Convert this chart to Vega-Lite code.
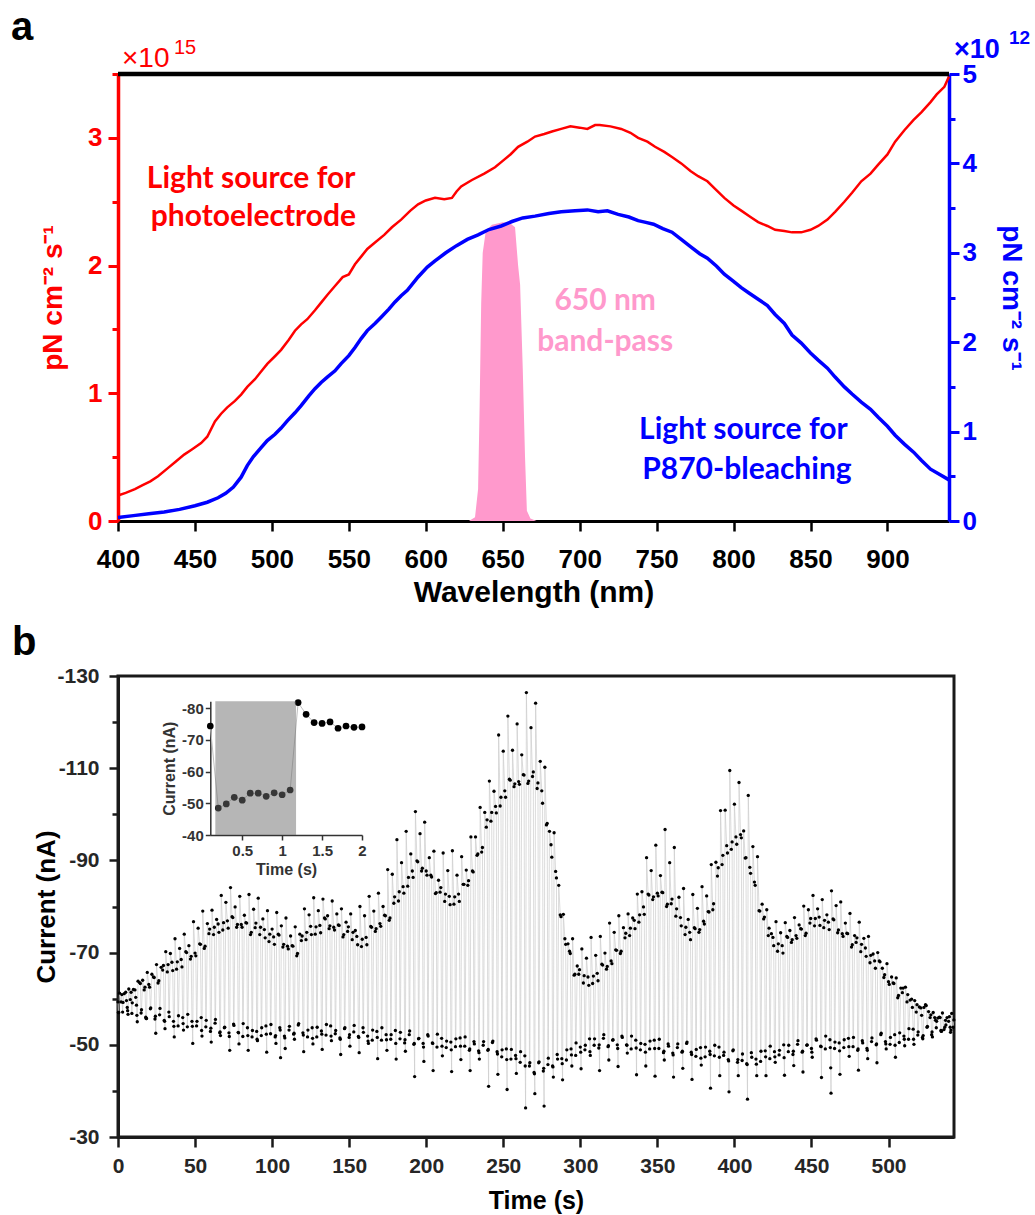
{
"$schema": "https://vega.github.io/schema/vega-lite/v6.json",
"background": "white",
"padding": {"left": 10, "top": 8, "right": 3, "bottom": 3},
"config": {"view": {"stroke": null}, "axis": {"grid": false}, "font": "Liberation Sans"},
"datasets": {
"red": [{"nm":400,"v":0.20},{"nm":405,"v":0.22},{"nm":411,"v":0.25},{"nm":416,"v":0.28},{"nm":421,"v":0.31},{"nm":426,"v":0.35},{"nm":432,"v":0.41},{"nm":437,"v":0.46},{"nm":443,"v":0.52},{"nm":448,"v":0.56},{"nm":454,"v":0.61},{"nm":458,"v":0.66},{"nm":463,"v":0.78},{"nm":467,"v":0.84},{"nm":471,"v":0.89},{"nm":476,"v":0.94},{"nm":480,"v":0.99},{"nm":484,"v":1.05},{"nm":489,"v":1.11},{"nm":493,"v":1.17},{"nm":497,"v":1.23},{"nm":502,"v":1.29},{"nm":506,"v":1.34},{"nm":511,"v":1.42},{"nm":515,"v":1.49},{"nm":519,"v":1.54},{"nm":523,"v":1.58},{"nm":528,"v":1.65},{"nm":532,"v":1.71},{"nm":536,"v":1.77},{"nm":541,"v":1.84},{"nm":546,"v":1.91},{"nm":550,"v":1.93},{"nm":554,"v":2.01},{"nm":558,"v":2.07},{"nm":562,"v":2.13},{"nm":567,"v":2.18},{"nm":573,"v":2.24},{"nm":578,"v":2.30},{"nm":584,"v":2.36},{"nm":590,"v":2.43},{"nm":595,"v":2.48},{"nm":600,"v":2.51},{"nm":606,"v":2.53},{"nm":612,"v":2.52},{"nm":617,"v":2.53},{"nm":620,"v":2.58},{"nm":623,"v":2.62},{"nm":630,"v":2.67},{"nm":638,"v":2.72},{"nm":645,"v":2.77},{"nm":650,"v":2.82},{"nm":655,"v":2.87},{"nm":660,"v":2.93},{"nm":666,"v":2.97},{"nm":671,"v":3.01},{"nm":677,"v":3.03},{"nm":682,"v":3.05},{"nm":688,"v":3.07},{"nm":694,"v":3.09},{"nm":700,"v":3.08},{"nm":705,"v":3.07},{"nm":710,"v":3.10},{"nm":713,"v":3.10},{"nm":720,"v":3.09},{"nm":727,"v":3.07},{"nm":733,"v":3.04},{"nm":738,"v":3.00},{"nm":744,"v":2.97},{"nm":749,"v":2.93},{"nm":755,"v":2.89},{"nm":760,"v":2.85},{"nm":766,"v":2.80},{"nm":772,"v":2.74},{"nm":777,"v":2.70},{"nm":783,"v":2.66},{"nm":788,"v":2.60},{"nm":794,"v":2.53},{"nm":800,"v":2.47},{"nm":805,"v":2.43},{"nm":811,"v":2.38},{"nm":816,"v":2.34},{"nm":822,"v":2.31},{"nm":827,"v":2.28},{"nm":833,"v":2.27},{"nm":838,"v":2.26},{"nm":844,"v":2.26},{"nm":850,"v":2.28},{"nm":855,"v":2.31},{"nm":861,"v":2.36},{"nm":866,"v":2.42},{"nm":872,"v":2.50},{"nm":877,"v":2.57},{"nm":883,"v":2.66},{"nm":889,"v":2.72},{"nm":894,"v":2.79},{"nm":900,"v":2.87},{"nm":905,"v":2.97},{"nm":911,"v":3.06},{"nm":917,"v":3.14},{"nm":922,"v":3.20},{"nm":928,"v":3.28},{"nm":932,"v":3.34},{"nm":937,"v":3.40},{"nm":940,"v":3.48}],
"blue": [{"nm":400,"v":0.04},{"nm":410,"v":0.06},{"nm":420,"v":0.08},{"nm":430,"v":0.10},{"nm":440,"v":0.13},{"nm":450,"v":0.17},{"nm":458,"v":0.21},{"nm":465,"v":0.26},{"nm":470,"v":0.31},{"nm":475,"v":0.38},{"nm":480,"v":0.49},{"nm":484,"v":0.62},{"nm":488,"v":0.72},{"nm":493,"v":0.82},{"nm":497,"v":0.90},{"nm":502,"v":0.97},{"nm":506,"v":1.04},{"nm":510,"v":1.12},{"nm":515,"v":1.21},{"nm":519,"v":1.29},{"nm":524,"v":1.40},{"nm":528,"v":1.48},{"nm":532,"v":1.55},{"nm":536,"v":1.61},{"nm":541,"v":1.68},{"nm":545,"v":1.76},{"nm":550,"v":1.85},{"nm":554,"v":1.94},{"nm":558,"v":2.04},{"nm":562,"v":2.13},{"nm":567,"v":2.21},{"nm":571,"v":2.28},{"nm":576,"v":2.37},{"nm":580,"v":2.45},{"nm":584,"v":2.52},{"nm":588,"v":2.58},{"nm":595,"v":2.73},{"nm":601,"v":2.84},{"nm":606,"v":2.91},{"nm":613,"v":3.00},{"nm":620,"v":3.08},{"nm":627,"v":3.15},{"nm":634,"v":3.20},{"nm":641,"v":3.26},{"nm":649,"v":3.30},{"nm":656,"v":3.35},{"nm":663,"v":3.39},{"nm":671,"v":3.41},{"nm":680,"v":3.44},{"nm":688,"v":3.46},{"nm":697,"v":3.47},{"nm":705,"v":3.48},{"nm":712,"v":3.46},{"nm":718,"v":3.47},{"nm":725,"v":3.43},{"nm":732,"v":3.40},{"nm":738,"v":3.36},{"nm":743,"v":3.34},{"nm":748,"v":3.32},{"nm":754,"v":3.27},{"nm":760,"v":3.23},{"nm":766,"v":3.15},{"nm":772,"v":3.07},{"nm":778,"v":2.99},{"nm":783,"v":2.94},{"nm":789,"v":2.85},{"nm":794,"v":2.76},{"nm":800,"v":2.68},{"nm":805,"v":2.61},{"nm":810,"v":2.55},{"nm":816,"v":2.48},{"nm":822,"v":2.41},{"nm":827,"v":2.31},{"nm":833,"v":2.21},{"nm":838,"v":2.08},{"nm":844,"v":1.99},{"nm":850,"v":1.88},{"nm":855,"v":1.80},{"nm":861,"v":1.71},{"nm":866,"v":1.61},{"nm":872,"v":1.50},{"nm":877,"v":1.42},{"nm":883,"v":1.33},{"nm":889,"v":1.25},{"nm":894,"v":1.16},{"nm":900,"v":1.06},{"nm":905,"v":0.96},{"nm":911,"v":0.86},{"nm":917,"v":0.77},{"nm":922,"v":0.68},{"nm":928,"v":0.58},{"nm":934,"v":0.52},{"nm":940,"v":0.46}],
"pink": [{"nm":628,"v":0},{"nm":632,"v":0.03},{"nm":634,"v":0.25},{"nm":635,"v":0.9},{"nm":636,"v":1.7},{"nm":637,"v":2.1},{"nm":639,"v":2.27},{"nm":643,"v":2.32},{"nm":650,"v":2.34},{"nm":655,"v":2.33},{"nm":658,"v":2.3},{"nm":660,"v":2.0},{"nm":661.3,"v":1.85},{"nm":663,"v":1.2},{"nm":664.5,"v":0.5},{"nm":665.7,"v":0.08},{"nm":668,"v":0.02},{"nm":672,"v":0}],
"cur": [
{"t":0,"c":-59.3},{"t":0.25,"c":-57.0},{"t":0.5,"c":-57.0},{"t":1,"c":-61.2},{"t":2,"c":-59.3},{"t":2.5,"c":-60.9},
{"t":3,"c":-57.1},{"t":3.25,"c":-59.2},{"t":4,"c":-61.1},{"t":5,"c":-61.4},{"t":5.5,"c":-59.6},
{"t":6,"c":-58.1},{"t":6.25,"c":-57.4},{"t":6.5,"c":-56.6},{"t":7,"c":-62.1},{"t":8,"c":-59.8},{"t":8.5,"c":-61.4},
{"t":9,"c":-56.8},{"t":9.25,"c":-59.1},{"t":10,"c":-62.0},{"t":11,"c":-61.9},{"t":11.5,"c":-60.3},
{"t":12,"c":-58.6},{"t":12.25,"c":-56.4},{"t":12.5,"c":-55.0},{"t":13,"c":-63.8},{"t":14,"c":-63.5},{"t":14.5,"c":-63.3},
{"t":15,"c":-56.9},{"t":15.25,"c":-57.6},{"t":16,"c":-64.0},{"t":17,"c":-61.9},{"t":17.5,"c":-62.5},
{"t":18,"c":-56.0},{"t":18.25,"c":-55.7},{"t":18.5,"c":-55.7},{"t":19,"c":-65.7},{"t":20,"c":-63.1},{"t":20.5,"c":-62.5},
{"t":21,"c":-57.8},{"t":21.25,"c":-58.0},{"t":22,"c":-65.3},{"t":23,"c":-64.7},{"t":23.5,"c":-64.6},
{"t":24,"c":-55.6},{"t":24.25,"c":-56.2},{"t":24.5,"c":-52.5},{"t":25,"c":-67.4},{"t":26,"c":-63.4},{"t":26.5,"c":-63.9},
{"t":27,"c":-56.5},{"t":27.25,"c":-57.9},{"t":28,"c":-66.8},{"t":29,"c":-66.2},{"t":29.5,"c":-67.2},
{"t":30,"c":-55.3},{"t":30.25,"c":-55.1},{"t":30.5,"c":-53.5},{"t":31,"c":-70.2},{"t":32,"c":-65.8},{"t":32.5,"c":-67.4},
{"t":33,"c":-57.1},{"t":33.25,"c":-56.1},{"t":34,"c":-69.8},{"t":35,"c":-67.9},{"t":35.5,"c":-66.1},
{"t":36,"c":-55.1},{"t":36.25,"c":-54.0},{"t":36.5,"c":-51.7},{"t":37,"c":-73.0},{"t":38,"c":-66.4},{"t":38.5,"c":-68.0},
{"t":39,"c":-54.1},{"t":39.25,"c":-56.3},{"t":40,"c":-70.9},{"t":41,"c":-68.5},{"t":41.5,"c":-66.9},
{"t":42,"c":-55.9},{"t":42.25,"c":-54.6},{"t":42.5,"c":-53.2},{"t":43,"c":-74.0},{"t":44,"c":-70.2},{"t":44.5,"c":-70.0},
{"t":45,"c":-53.9},{"t":45.25,"c":-56.6},{"t":46,"c":-71.5},{"t":47,"c":-68.6},{"t":47.5,"c":-69.2},
{"t":48,"c":-55.1},{"t":48.25,"c":-54.0},{"t":48.5,"c":-50.3},{"t":49,"c":-76.7},{"t":50,"c":-69.9},{"t":50.5,"c":-69.3},
{"t":51,"c":-54.1},{"t":51.25,"c":-55.1},{"t":52,"c":-75.3},{"t":53,"c":-71.9},{"t":53.5,"c":-71.8},
{"t":54,"c":-55.9},{"t":54.25,"c":-53.1},{"t":54.5,"c":-51.9},{"t":55,"c":-79.0},{"t":56,"c":-70.9},{"t":56.5,"c":-71.4},
{"t":57,"c":-53.9},{"t":57.25,"c":-55.3},{"t":58,"c":-76.3},{"t":59,"c":-74.1},{"t":59.5,"c":-75.1},
{"t":60,"c":-52.9},{"t":60.25,"c":-53.6},{"t":60.5,"c":-50.6},{"t":61,"c":-79.2},{"t":62,"c":-73.9},{"t":62.5,"c":-75.5},
{"t":63,"c":-54.7},{"t":63.25,"c":-55.5},{"t":64,"c":-77.2},{"t":65,"c":-76.2},{"t":65.5,"c":-74.4},
{"t":66,"c":-52.6},{"t":66.25,"c":-52.8},{"t":66.5,"c":-52.0},{"t":67,"c":-82.4},{"t":68,"c":-74.9},{"t":68.5,"c":-76.5},
{"t":69,"c":-53.7},{"t":69.25,"c":-53.8},{"t":70,"c":-80.9},{"t":71,"c":-76.9},{"t":71.5,"c":-75.3},
{"t":72,"c":-52.6},{"t":72.25,"c":-51.8},{"t":72.5,"c":-48.8},{"t":73,"c":-84.1},{"t":74,"c":-77.8},{"t":74.5,"c":-77.6},
{"t":75,"c":-54.5},{"t":75.25,"c":-54.2},{"t":76,"c":-79.9},{"t":77,"c":-75.5},{"t":77.5,"c":-76.1},
{"t":78,"c":-52.7},{"t":78.25,"c":-52.6},{"t":78.5,"c":-50.2},{"t":79,"c":-82.2},{"t":80,"c":-76.1},{"t":80.5,"c":-75.5},
{"t":81,"c":-51.8},{"t":81.25,"c":-54.6},{"t":82,"c":-78.1},{"t":83,"c":-76.5},{"t":83.5,"c":-76.4},
{"t":84,"c":-53.7},{"t":84.25,"c":-52.0},{"t":84.5,"c":-48.8},{"t":85,"c":-82.6},{"t":86,"c":-73.9},{"t":86.5,"c":-74.4},
{"t":87,"c":-51.7},{"t":87.25,"c":-53.1},{"t":88,"c":-79.4},{"t":89,"c":-75.4},{"t":89.5,"c":-76.4},
{"t":90,"c":-52.9},{"t":90.25,"c":-51.2},{"t":90.5,"c":-50.9},{"t":91,"c":-81.8},{"t":92,"c":-73.9},{"t":92.5,"c":-75.5},
{"t":93,"c":-52.0},{"t":93.25,"c":-53.7},{"t":94,"c":-77.3},{"t":95,"c":-75.0},{"t":95.5,"c":-73.2},
{"t":96,"c":-54.1},{"t":96.25,"c":-52.3},{"t":96.5,"c":-48.4},{"t":97,"c":-79.1},{"t":98,"c":-72.4},{"t":98.5,"c":-74.0},
{"t":99,"c":-52.4},{"t":99.25,"c":-54.4},{"t":100,"c":-75.1},{"t":101,"c":-73.4},{"t":101.5,"c":-71.8},
{"t":102,"c":-51.7},{"t":102.25,"c":-52.0},{"t":102.5,"c":-50.3},{"t":103,"c":-78.7},{"t":104,"c":-74.0},{"t":104.5,"c":-73.8},
{"t":105,"c":-53.7},{"t":105.25,"c":-53.2},{"t":105.5,"c":-47.2},{"t":106,"c":-75.8},{"t":107,"c":-71.2},{"t":107.5,"c":-71.8},
{"t":108,"c":-51.9},{"t":108.25,"c":-51.5},{"t":108.5,"c":-49.2},{"t":109,"c":-77.5},{"t":110,"c":-71.4},{"t":110.5,"c":-70.8},
{"t":111,"c":-53.2},{"t":111.25,"c":-54.0},{"t":112,"c":-73.6},{"t":113,"c":-71.5},{"t":113.5,"c":-71.4},
{"t":114,"c":-52.3},{"t":114.25,"c":-52.5},{"t":114.5,"c":-51.2},{"t":115,"c":-75.6},{"t":116,"c":-69.3},{"t":116.5,"c":-69.8},
{"t":117,"c":-54.3},{"t":117.25,"c":-54.6},{"t":118,"c":-74.0},{"t":119,"c":-72.6},{"t":119.5,"c":-73.6},
{"t":120,"c":-52.6},{"t":120.25,"c":-52.1},{"t":120.5,"c":-48.5},{"t":121,"c":-79.5},{"t":122,"c":-72.8},{"t":122.5,"c":-74.4},
{"t":123,"c":-51.7},{"t":123.25,"c":-53.2},{"t":124,"c":-78.2},{"t":125,"c":-75.7},{"t":125.5,"c":-73.9},
{"t":126,"c":-53.7},{"t":126.25,"c":-51.4},{"t":126.5,"c":-50.2},{"t":127,"c":-81.9},{"t":128,"c":-74.0},{"t":128.5,"c":-75.6},
{"t":129,"c":-51.7},{"t":129.25,"c":-53.8},{"t":130,"c":-79.1},{"t":131,"c":-75.9},{"t":131.5,"c":-74.3},
{"t":132,"c":-53.0},{"t":132.25,"c":-52.3},{"t":132.5,"c":-49.0},{"t":133,"c":-81.6},{"t":134,"c":-77.5},{"t":134.5,"c":-77.3},
{"t":135,"c":-52.1},{"t":135.25,"c":-54.4},{"t":136,"c":-78.0},{"t":137,"c":-75.2},{"t":137.5,"c":-75.8},
{"t":138,"c":-54.1},{"t":138.25,"c":-51.9},{"t":138.5,"c":-50.9},{"t":139,"c":-81.2},{"t":140,"c":-75.5},{"t":140.5,"c":-74.9},
{"t":141,"c":-52.4},{"t":141.25,"c":-53.1},{"t":142,"c":-78.4},{"t":143,"c":-76.0},{"t":143.5,"c":-75.9},
{"t":144,"c":-51.5},{"t":144.25,"c":-51.2},{"t":144.5,"c":-47.9},{"t":145,"c":-79.5},{"t":146,"c":-73.4},{"t":146.5,"c":-73.9},
{"t":147,"c":-53.5},{"t":147.25,"c":-53.7},{"t":148,"c":-76.6},{"t":149,"c":-74.6},{"t":149.5,"c":-75.6},
{"t":150,"c":-51.6},{"t":150.25,"c":-52.2},{"t":150.5,"c":-49.7},{"t":151,"c":-78.4},{"t":152,"c":-72.8},{"t":152.5,"c":-74.4},
{"t":153,"c":-52.8},{"t":153.25,"c":-54.2},{"t":154,"c":-74.8},{"t":155,"c":-73.5},{"t":155.5,"c":-71.7},
{"t":156,"c":-51.8},{"t":156.25,"c":-51.6},{"t":156.5,"c":-48.3},{"t":157,"c":-80.0},{"t":158,"c":-71.3},{"t":158.5,"c":-72.9},
{"t":159,"c":-53.7},{"t":159.25,"c":-52.7},{"t":160,"c":-78.0},{"t":161,"c":-73.3},{"t":161.5,"c":-71.7},
{"t":162,"c":-51.9},{"t":162.25,"c":-50.8},{"t":162.5,"c":-50.3},{"t":163,"c":-82.2},{"t":164,"c":-75.7},{"t":164.5,"c":-75.5},
{"t":165,"c":-51.0},{"t":165.25,"c":-53.2},{"t":166,"c":-79.0},{"t":167,"c":-74.6},{"t":167.5,"c":-75.2},
{"t":168,"c":-52.9},{"t":168.25,"c":-51.6},{"t":168.5,"c":-47.0},{"t":169,"c":-82.9},{"t":170,"c":-76.3},{"t":170.5,"c":-75.7},
{"t":171,"c":-51.0},{"t":171.25,"c":-53.7},{"t":172,"c":-80.0},{"t":173,"c":-78.1},{"t":173.5,"c":-78.0},
{"t":174,"c":-52.2},{"t":174.25,"c":-51.1},{"t":174.5,"c":-48.8},{"t":175,"c":-88.0},{"t":176,"c":-77.0},{"t":176.5,"c":-77.5},
{"t":177,"c":-51.2},{"t":177.25,"c":-52.2},{"t":178,"c":-87.0},{"t":179,"c":-80.7},{"t":179.5,"c":-82.1},
{"t":180,"c":-53.1},{"t":180.25,"c":-50.3},{"t":180.5,"c":-46.9},{"t":181,"c":-94.5},{"t":182,"c":-81.2},{"t":182.5,"c":-83.2},
{"t":183,"c":-51.3},{"t":183.25,"c":-52.7},{"t":184,"c":-89.5},{"t":185,"c":-84.3},{"t":185.5,"c":-82.9},
{"t":186,"c":-50.4},{"t":186.25,"c":-51.1},{"t":186.5,"c":-48.6},{"t":187,"c":-96.3},{"t":188,"c":-84.4},{"t":188.5,"c":-86.3},
{"t":189,"c":-52.2},{"t":189.25,"c":-53.0},{"t":190,"c":-91.4},{"t":191,"c":-87.7},{"t":191.5,"c":-86.3},
{"t":192,"c":-50.1},{"t":192.25,"c":-50.3},{"t":192.5,"c":-43.1},{"t":193,"c":-100.6},{"t":194,"c":-89.9},{"t":194.5,"c":-89.7},
{"t":195,"c":-51.3},{"t":195.25,"c":-51.4},{"t":196,"c":-95.8},{"t":197,"c":-87.7},{"t":197.5,"c":-88.3},
{"t":198,"c":-50.3},{"t":198.25,"c":-49.5},{"t":198.5,"c":-46.4},{"t":199,"c":-98.3},{"t":200,"c":-87.7},{"t":200.5,"c":-86.8},
{"t":201,"c":-52.2},{"t":201.25,"c":-51.9},{"t":202,"c":-90.6},{"t":203,"c":-86.8},{"t":203.5,"c":-86.4},
{"t":204,"c":-50.4},{"t":204.25,"c":-50.3},{"t":204.5,"c":-44.4},{"t":205,"c":-92.0},{"t":206,"c":-82.8},{"t":206.5,"c":-83.0},
{"t":207,"c":-49.5},{"t":207.25,"c":-52.3},{"t":208,"c":-85.7},{"t":209,"c":-83.1},{"t":209.5,"c":-84.1},
{"t":210,"c":-51.4},{"t":210.25,"c":-49.7},{"t":210.5,"c":-47.6},{"t":211,"c":-91.6},{"t":212,"c":-81.1},{"t":212.5,"c":-82.7},
{"t":213,"c":-49.4},{"t":213.25,"c":-50.8},{"t":214,"c":-87.8},{"t":215,"c":-82.2},{"t":215.5,"c":-80.4},
{"t":216,"c":-50.6},{"t":216.25,"c":-48.9},{"t":216.5,"c":-44.2},{"t":217,"c":-92.1},{"t":218,"c":-80.5},{"t":218.5,"c":-82.1},
{"t":219,"c":-49.6},{"t":219.25,"c":-51.3},{"t":220,"c":-86.8},{"t":221,"c":-82.7},{"t":221.5,"c":-81.1},
{"t":222,"c":-51.5},{"t":222.25,"c":-49.7},{"t":222.5,"c":-46.8},{"t":223,"c":-90.8},{"t":224,"c":-84.8},{"t":224.5,"c":-84.8},
{"t":225,"c":-49.7},{"t":225.25,"c":-51.7},{"t":226,"c":-87.9},{"t":227,"c":-84.6},{"t":227.5,"c":-85.6},
{"t":228,"c":-48.8},{"t":228.25,"c":-49.1},{"t":228.5,"c":-44.4},{"t":229,"c":-95.1},{"t":230,"c":-87.7},{"t":230.5,"c":-87.5},
{"t":231,"c":-50.7},{"t":231.25,"c":-50.2},{"t":232,"c":-95.1},{"t":233,"c":-91.1},{"t":233.5,"c":-91.4},
{"t":234,"c":-48.7},{"t":234.25,"c":-48.3},{"t":234.5,"c":-46.9},{"t":235,"c":-101.5},{"t":236,"c":-91.8},{"t":236.5,"c":-92.8},
{"t":237,"c":-49.9},{"t":237.25,"c":-50.7},{"t":238,"c":-100.4},{"t":239,"c":-97.2},{"t":239.5,"c":-98.8},
{"t":240,"c":-48.8},{"t":240.25,"c":-49.0},{"t":240.5,"c":-41.0},{"t":241,"c":-107.2},{"t":242,"c":-98.5},{"t":242.5,"c":-100.4},
{"t":243,"c":-50.5},{"t":243.25,"c":-50.8},{"t":244,"c":-105.0},{"t":245,"c":-101.7},{"t":245.5,"c":-100.3},
{"t":246,"c":-48.5},{"t":246.25,"c":-48.0},{"t":246.5,"c":-43.6},{"t":247,"c":-117.2},{"t":248,"c":-101.8},{"t":248.5,"c":-103.7},
{"t":249,"c":-47.4},{"t":249.25,"c":-48.9},{"t":250,"c":-113.7},{"t":251,"c":-105.1},{"t":251.5,"c":-103.7},
{"t":252,"c":-49.1},{"t":252.25,"c":-46.8},{"t":252.5,"c":-40.3},{"t":253,"c":-121.3},{"t":254,"c":-107.6},{"t":254.5,"c":-107.4},
{"t":255,"c":-46.9},{"t":255.25,"c":-49.0},{"t":256,"c":-113.9},{"t":257,"c":-106.0},{"t":257.5,"c":-106.6},
{"t":258,"c":-47.7},{"t":258.25,"c":-47.0},{"t":258.5,"c":-43.8},{"t":259,"c":-119.6},{"t":260,"c":-107.1},{"t":260.5,"c":-106.5},
{"t":261,"c":-46.2},{"t":261.25,"c":-48.5},{"t":262,"c":-112.9},{"t":263,"c":-108.6},{"t":263.5,"c":-108.5},
{"t":264,"c":-47.6},{"t":264.25,"c":-45.4},{"t":264.5,"c":-36.3},{"t":265,"c":-126.4},{"t":266,"c":-106.7},{"t":266.5,"c":-107.2},
{"t":267,"c":-45.4},{"t":267.25,"c":-46.1},{"t":268,"c":-118.8},{"t":269,"c":-108.2},{"t":269.5,"c":-109.2},
{"t":270,"c":-44.0},{"t":270.25,"c":-43.7},{"t":270.5,"c":-39.4},{"t":271,"c":-124.1},{"t":272,"c":-105.6},{"t":272.5,"c":-106.8},
{"t":273,"c":-46.1},{"t":273.25,"c":-46.3},{"t":274,"c":-111.5},{"t":275,"c":-105.1},{"t":275.5,"c":-102.4},
{"t":276,"c":-44.3},{"t":276.25,"c":-44.9},{"t":276.5,"c":-36.7},{"t":277,"c":-110.2},{"t":278,"c":-97.7},{"t":278.5,"c":-98.0},
{"t":279,"c":-45.7},{"t":279.25,"c":-47.1},{"t":280,"c":-96.3},{"t":281,"c":-93.4},{"t":281.5,"c":-90.7},
{"t":282,"c":-45.4},{"t":282.25,"c":-45.2},{"t":282.5,"c":-43.0},{"t":283,"c":-96.0},{"t":284,"c":-87.6},{"t":284.5,"c":-86.2},
{"t":285,"c":-47.9},{"t":285.25,"c":-46.9},{"t":286,"c":-84.6},{"t":287,"c":-78.2},{"t":287.5,"c":-77.8},
{"t":288,"c":-47.0},{"t":288.25,"c":-45.9},{"t":288.5,"c":-42.4},{"t":289,"c":-78.3},{"t":290,"c":-73.0},{"t":290.5,"c":-71.8},
{"t":291,"c":-46.7},{"t":291.25,"c":-48.9},{"t":292,"c":-71.9},{"t":293,"c":-70.3},{"t":293.5,"c":-69.8},
{"t":294,"c":-49.1},{"t":294.25,"c":-47.8},{"t":294.5,"c":-45.4},{"t":295,"c":-73.0},{"t":296,"c":-65.1},{"t":296.5,"c":-65.3},
{"t":297,"c":-47.7},{"t":297.25,"c":-50.4},{"t":298,"c":-67.1},{"t":299,"c":-65.3},{"t":299.5,"c":-66.3},
{"t":300,"c":-49.5},{"t":300.25,"c":-48.4},{"t":300.5,"c":-44.8},{"t":301,"c":-70.8},{"t":302,"c":-63.4},{"t":302.5,"c":-65.0},
{"t":303,"c":-48.9},{"t":303.25,"c":-49.9},{"t":304,"c":-68.8},{"t":305,"c":-64.7},{"t":305.5,"c":-62.9},
{"t":306,"c":-51.3},{"t":306.25,"c":-48.5},{"t":306.5,"c":-47.7},{"t":307,"c":-73.3},{"t":308,"c":-63.3},{"t":308.5,"c":-64.9},
{"t":309,"c":-49.9},{"t":309.25,"c":-51.3},{"t":310,"c":-69.4},{"t":311,"c":-65.5},{"t":311.5,"c":-63.9},
{"t":312,"c":-49.3},{"t":312.25,"c":-50.0},{"t":312.5,"c":-44.4},{"t":313,"c":-73.5},{"t":314,"c":-67.5},{"t":314.5,"c":-67.3},
{"t":315,"c":-51.4},{"t":315.25,"c":-52.2},{"t":316,"c":-69.9},{"t":317,"c":-66.4},{"t":317.5,"c":-67.0},
{"t":318,"c":-49.6},{"t":318.25,"c":-49.8},{"t":318.5,"c":-46.7},{"t":319,"c":-76.4},{"t":320,"c":-68.2},{"t":320.5,"c":-67.6},
{"t":321,"c":-51.0},{"t":321.25,"c":-51.1},{"t":322,"c":-74.4},{"t":323,"c":-70.6},{"t":323.5,"c":-70.5},
{"t":324,"c":-50.0},{"t":324.25,"c":-49.2},{"t":324.5,"c":-45.3},{"t":325,"c":-78.0},{"t":326,"c":-69.8},{"t":326.5,"c":-70.3},
{"t":327,"c":-51.9},{"t":327.25,"c":-51.6},{"t":328,"c":-75.4},{"t":329,"c":-73.2},{"t":329.5,"c":-74.2},
{"t":330,"c":-50.0},{"t":330.25,"c":-49.9},{"t":330.5,"c":-48.2},{"t":331,"c":-78.4},{"t":332,"c":-73.7},{"t":332.5,"c":-75.3},
{"t":333,"c":-49.1},{"t":333.25,"c":-51.9},{"t":334,"c":-77.5},{"t":335,"c":-77.0},{"t":335.5,"c":-75.2},
{"t":336,"c":-51.0},{"t":336.25,"c":-49.3},{"t":336.5,"c":-43.5},{"t":337,"c":-82.7},{"t":338,"c":-76.6},{"t":338.5,"c":-78.2},
{"t":339,"c":-48.9},{"t":339.25,"c":-50.3},{"t":340,"c":-83.2},{"t":341,"c":-79.9},{"t":341.5,"c":-78.3},
{"t":342,"c":-50.1},{"t":342.25,"c":-48.4},{"t":342.5,"c":-45.4},{"t":343,"c":-90.6},{"t":344,"c":-82.7},{"t":344.5,"c":-82.5},
{"t":345,"c":-49.1},{"t":345.25,"c":-50.8},{"t":346,"c":-87.8},{"t":347,"c":-81.5},{"t":347.5,"c":-82.1},
{"t":348,"c":-51.0},{"t":348.25,"c":-49.2},{"t":348.5,"c":-43.2},{"t":349,"c":-93.3},{"t":350,"c":-82.9},{"t":350.5,"c":-82.3},
{"t":351,"c":-49.2},{"t":351.25,"c":-51.2},{"t":352,"c":-86.7},{"t":353,"c":-83.1},{"t":353.5,"c":-83.0},
{"t":354,"c":-48.3},{"t":354.25,"c":-48.6},{"t":354.5,"c":-46.7},{"t":355,"c":-96.7},{"t":356,"c":-80.0},{"t":356.5,"c":-80.5},
{"t":357,"c":-50.2},{"t":357.25,"c":-49.7},{"t":358,"c":-89.5},{"t":359,"c":-80.6},{"t":359.5,"c":-81.6},
{"t":360,"c":-48.2},{"t":360.25,"c":-47.8},{"t":360.5,"c":-43.0},{"t":361,"c":-92.8},{"t":362,"c":-77.9},{"t":362.5,"c":-79.5},
{"t":363,"c":-49.4},{"t":363.25,"c":-50.2},{"t":364,"c":-82.0},{"t":365,"c":-77.6},{"t":365.5,"c":-75.8},
{"t":366,"c":-48.4},{"t":366.25,"c":-48.6},{"t":366.5,"c":-44.9},{"t":367,"c":-83.9},{"t":368,"c":-73.9},{"t":368.5,"c":-75.5},
{"t":369,"c":-50.3},{"t":369.25,"c":-50.6},{"t":370,"c":-77.2},{"t":371,"c":-74.4},{"t":371.5,"c":-72.8},
{"t":372,"c":-48.4},{"t":372.25,"c":-47.9},{"t":372.5,"c":-42.5},{"t":373,"c":-82.6},{"t":374,"c":-75.4},{"t":374.5,"c":-75.2},
{"t":375,"c":-47.5},{"t":375.25,"c":-49.0},{"t":376,"c":-79.6},{"t":377,"c":-74.4},{"t":377.5,"c":-75.0},
{"t":378,"c":-49.4},{"t":378.25,"c":-47.1},{"t":378.5,"c":-45.6},{"t":379,"c":-84.3},{"t":380,"c":-76.8},{"t":380.5,"c":-76.2},
{"t":381,"c":-47.4},{"t":381.25,"c":-49.5},{"t":382,"c":-82.3},{"t":383,"c":-78.9},{"t":383.5,"c":-78.8},
{"t":384,"c":-48.6},{"t":384.25,"c":-47.9},{"t":384.5,"c":-40.6},{"t":385,"c":-89.1},{"t":386,"c":-79.3},{"t":386.5,"c":-80.6},
{"t":387,"c":-47.6},{"t":387.25,"c":-49.9},{"t":388,"c":-89.6},{"t":389,"c":-86.6},{"t":389.5,"c":-88.4},
{"t":390,"c":-49.5},{"t":390.25,"c":-47.3},{"t":390.5,"c":-43.3},{"t":391,"c":-100.8},{"t":392,"c":-89.1},{"t":392.5,"c":-91.1},
{"t":393,"c":-47.7},{"t":393.25,"c":-48.4},{"t":394,"c":-100.9},{"t":395,"c":-93.2},{"t":395.5,"c":-91.6},
{"t":396,"c":-46.8},{"t":396.25,"c":-46.5},{"t":396.5,"c":-39.8},{"t":397,"c":-109.5},{"t":398,"c":-92.4},{"t":398.5,"c":-94.0},
{"t":399,"c":-48.7},{"t":399.25,"c":-48.9},{"t":400,"c":-102.2},{"t":401,"c":-95.1},{"t":401.5,"c":-93.5},
{"t":402,"c":-46.2},{"t":402.25,"c":-46.8},{"t":402.5,"c":-43.3},{"t":403,"c":-106.9},{"t":404,"c":-95.6},{"t":404.5,"c":-94.9},
{"t":405,"c":-46.6},{"t":405.25,"c":-48.0},{"t":406,"c":-96.4},{"t":407,"c":-90.5},{"t":407.5,"c":-90.6},
{"t":408,"c":-45.9},{"t":408.25,"c":-45.7},{"t":408.5,"c":-38.2},{"t":409,"c":-104.1},{"t":410,"c":-88.5},{"t":410.5,"c":-87.2},
{"t":411,"c":-48.3},{"t":411.25,"c":-47.3},{"t":412,"c":-93.0},{"t":413,"c":-85.3},{"t":413.5,"c":-84.6},
{"t":414,"c":-46.9},{"t":414.25,"c":-45.8},{"t":414.5,"c":-43.3},{"t":415,"c":-90.8},{"t":416,"c":-79.1},{"t":416.5,"c":-79.0},
{"t":417,"c":-46.4},{"t":417.25,"c":-48.6},{"t":418,"c":-80.5},{"t":419,"c":-77.3},{"t":419.5,"c":-77.7},
{"t":420,"c":-48.7},{"t":420.25,"c":-47.4},{"t":420.5,"c":-43.3},{"t":421,"c":-79.3},{"t":422,"c":-73.7},{"t":422.5,"c":-75.3},
{"t":423,"c":-47.0},{"t":423.25,"c":-49.7},{"t":424,"c":-74.1},{"t":425,"c":-73.3},{"t":425.5,"c":-71.5},
{"t":426,"c":-48.5},{"t":426.25,"c":-47.4},{"t":426.5,"c":-46.2},{"t":427,"c":-76.7},{"t":428,"c":-70.3},{"t":428.5,"c":-71.9},
{"t":429,"c":-47.8},{"t":429.25,"c":-48.8},{"t":430,"c":-74.3},{"t":431,"c":-71.5},{"t":431.5,"c":-69.9},
{"t":432,"c":-50.0},{"t":432.25,"c":-47.2},{"t":432.5,"c":-43.4},{"t":433,"c":-76.5},{"t":434,"c":-73.5},{"t":434.5,"c":-73.3},
{"t":435,"c":-48.5},{"t":435.25,"c":-49.9},{"t":436,"c":-74.8},{"t":437,"c":-72.2},{"t":437.5,"c":-72.8},
{"t":438,"c":-47.9},{"t":438.25,"c":-48.6},{"t":438.5,"c":-45.5},{"t":439,"c":-77.6},{"t":440,"c":-73.7},{"t":440.5,"c":-73.1},
{"t":441,"c":-50.1},{"t":441.25,"c":-50.9},{"t":442,"c":-76.0},{"t":443,"c":-75.2},{"t":443.5,"c":-75.1},
{"t":444,"c":-48.4},{"t":444.25,"c":-48.6},{"t":444.5,"c":-44.1},{"t":445,"c":-80.1},{"t":446,"c":-73.7},{"t":446.5,"c":-74.2},
{"t":447,"c":-49.9},{"t":447.25,"c":-50.0},{"t":448,"c":-79.3},{"t":449,"c":-76.4},{"t":449.5,"c":-77.4},
{"t":450,"c":-49.2},{"t":450.25,"c":-48.4},{"t":450.5,"c":-47.3},{"t":451,"c":-82.4},{"t":452,"c":-75.8},{"t":452.5,"c":-77.4},
{"t":453,"c":-51.3},{"t":453.25,"c":-51.0},{"t":454,"c":-79.5},{"t":455,"c":-77.7},{"t":455.5,"c":-75.9},
{"t":456,"c":-49.7},{"t":456.25,"c":-49.6},{"t":456.5,"c":-42.9},{"t":457,"c":-81.5},{"t":458,"c":-75.4},{"t":458.5,"c":-77.0},
{"t":459,"c":-49.1},{"t":459.25,"c":-51.9},{"t":460,"c":-78.2},{"t":461,"c":-76.6},{"t":461.5,"c":-75.0},
{"t":462,"c":-51.1},{"t":462.25,"c":-49.4},{"t":462.5,"c":-45.0},{"t":462.7,"c":-39.5},{"t":463,"c":-83.4},{"t":464,"c":-77.3},{"t":464.5,"c":-77.1},
{"t":465,"c":-49.2},{"t":465.25,"c":-50.6},{"t":466,"c":-80.2},{"t":467,"c":-74.3},{"t":467.5,"c":-74.9},
{"t":468,"c":-50.4},{"t":468.25,"c":-48.7},{"t":468.5,"c":-43.6},{"t":469,"c":-81.0},{"t":470,"c":-74.1},{"t":470.5,"c":-73.5},
{"t":471,"c":-49.4},{"t":471.25,"c":-51.1},{"t":472,"c":-76.4},{"t":473,"c":-74.2},{"t":473.5,"c":-74.1},
{"t":474,"c":-51.4},{"t":474.25,"c":-49.6},{"t":474.5,"c":-47.5},{"t":475,"c":-78.5},{"t":476,"c":-71.2},{"t":476.5,"c":-71.7},
{"t":477,"c":-49.6},{"t":477.25,"c":-51.6},{"t":478,"c":-73.7},{"t":479,"c":-72.2},{"t":479.5,"c":-73.2},
{"t":480,"c":-48.8},{"t":480.25,"c":-49.1},{"t":480.5,"c":-44.5},{"t":481,"c":-76.6},{"t":482,"c":-70.2},{"t":482.5,"c":-71.8},
{"t":483,"c":-50.9},{"t":483.25,"c":-50.4},{"t":484,"c":-73.1},{"t":485,"c":-71.0},{"t":485.5,"c":-69.2},
{"t":486,"c":-49.2},{"t":486.25,"c":-48.8},{"t":486.5,"c":-47.0},{"t":487,"c":-73.5},{"t":488,"c":-67.8},{"t":488.5,"c":-69.4},
{"t":489,"c":-50.7},{"t":489.25,"c":-51.5},{"t":490,"c":-69.7},{"t":491,"c":-68.2},{"t":491.5,"c":-66.6},
{"t":492,"c":-50.0},{"t":492.25,"c":-50.2},{"t":492.5,"c":-46.1},{"t":493,"c":-70.0},{"t":494,"c":-68.2},{"t":494.5,"c":-68.0},
{"t":495,"c":-52.2},{"t":495.25,"c":-52.5},{"t":496,"c":-66.6},{"t":497,"c":-64.6},{"t":497.5,"c":-65.2},
{"t":498,"c":-50.7},{"t":498.25,"c":-50.2},{"t":498.5,"c":-49.1},{"t":499,"c":-67.6},{"t":500,"c":-63.7},{"t":500.5,"c":-63.1},
{"t":501,"c":-50.1},{"t":501.25,"c":-51.6},{"t":502,"c":-64.7},{"t":503,"c":-63.4},{"t":503.5,"c":-63.3},
{"t":504,"c":-52.2},{"t":504.25,"c":-49.9},{"t":504.5,"c":-47.3},{"t":505,"c":-64.5},{"t":506,"c":-60.2},{"t":506.5,"c":-60.7},
{"t":507,"c":-50.5},{"t":507.25,"c":-52.6},{"t":508,"c":-62.3},{"t":509,"c":-61.3},{"t":509.5,"c":-62.3},
{"t":510,"c":-51.9},{"t":510.25,"c":-51.2},{"t":510.5,"c":-49.8},{"t":511,"c":-62.5},{"t":512,"c":-59.3},{"t":512.5,"c":-60.9},
{"t":513,"c":-51.2},{"t":513.25,"c":-53.5},{"t":514,"c":-59.7},{"t":515,"c":-59.9},{"t":515.5,"c":-58.1},
{"t":516,"c":-53.4},{"t":516.25,"c":-51.2},{"t":516.5,"c":-50.1},{"t":517,"c":-59.6},{"t":518,"c":-57.1},{"t":518.5,"c":-58.7},
{"t":519,"c":-52.1},{"t":519.25,"c":-52.8},{"t":520,"c":-58.2},{"t":521,"c":-58.0},{"t":521.5,"c":-56.4},
{"t":522,"c":-51.6},{"t":522.25,"c":-51.3},{"t":522.5,"c":-52.0},{"t":523,"c":-58.1},{"t":524,"c":-58.7},{"t":524.5,"c":-58.5},
{"t":525,"c":-53.8},{"t":525.25,"c":-54.0},{"t":526,"c":-57.2},{"t":527,"c":-55.9},{"t":527.5,"c":-56.5},
{"t":528,"c":-52.2},{"t":528.25,"c":-52.8},{"t":528.5,"c":-51.7},{"t":529,"c":-57.0},{"t":530,"c":-55.9},{"t":530.5,"c":-55.3},
{"t":531,"c":-53.7},{"t":531.25,"c":-55.1},{"t":532,"c":-55.8},{"t":533,"c":-56.0},{"t":533.5,"c":-55.9},
{"t":534,"c":-53.1},{"t":534.25,"c":-52.9},{"t":534.5,"c":-53.0},{"t":535,"c":-56.9},{"t":536,"c":-53.3},{"t":536.5,"c":-53.8},
{"t":537,"c":-55.3},{"t":537.25,"c":-54.3},{"t":538,"c":-55.9},{"t":539,"c":-55.1},{"t":539.5,"c":-56.1},
{"t":540,"c":-53.8},{"t":540.25,"c":-52.7},{"t":540.5,"c":-53.2},{"t":541,"c":-56.8},{"t":542,"c":-53.8},{"t":542.4,"c":-55.4}],
"inset": [{"t":0.1,"c":-74.4},{"t":0.2,"c":-48.5},{"t":0.3,"c":-49.8},{"t":0.4,"c":-51.9},{"t":0.5,"c":-51.0},{"t":0.6,"c":-53.2},{"t":0.7,"c":-53.2},{"t":0.8,"c":-52.2},{"t":0.9,"c":-53.3},{"t":1.0,"c":-52.7},{"t":1.1,"c":-54.2},{"t":1.2,"c":-81.8},{"t":1.3,"c":-78.1},{"t":1.4,"c":-75.5},{"t":1.5,"c":-75.2},{"t":1.6,"c":-75.7},{"t":1.7,"c":-73.7},{"t":1.8,"c":-74.4},{"t":1.9,"c":-74.0},{"t":2.0,"c":-74.1}]
},
"vconcat": [
{
"width": 831, "height": 447,
"title": {"text": "a", "anchor": "start", "frame": "group", "fontSize": 40, "fontWeight": "bold", "font": "Liberation Sans", "color": "black", "dx": -107, "offset": -51, "baseline": "alphabetic"},
"layer": [
{
"layer": [
{"data": {"name": "pink"}, "mark": {"type": "area", "color": "#ff99cc", "opacity": 1},
 "encoding": {
  "x": {"field": "nm", "type": "quantitative", "scale": {"domain": [400, 940], "nice": false, "zero": false},
   "axis": {"orient": "bottom", "values": [400,425,450,475,500,525,550,575,600,625,650,675,700,725,750,775,800,825,850,875,900,925], "labelExpr": "datum.value % 50 === 0 ? '' + datum.value : ''", "tickSize": {"condition": {"test": "datum.value % 50 === 0", "value": 10}, "value": 6}, "domainColor": "black", "domainWidth": 3, "tickColor": "black", "tickWidth": 2.5, "labelColor": "black", "labelFont": "Liberation Sans", "labelFontSize": 26, "labelFontWeight": "bold", "labelPadding": 15, "labelOverlap": false, "labelFlush": false, "title": "Wavelength (nm)", "titleFont": "Liberation Sans", "titleFontSize": 30, "titleFontWeight": "bold", "titleColor": "black", "titlePadding": 5}},
  "y": {"field": "v", "type": "quantitative", "scale": {"domain": [0, 3.5], "nice": false, "zero": false},
   "axis": {"orient": "left", "values": [0,0.5,1,1.5,2,2.5,3,3.5], "labelExpr": "datum.value % 1 === 0 && datum.value < 3.5 ? '' + datum.value : ''", "tickSize": {"condition": {"test": "datum.value % 1 === 0", "value": 10}, "value": 6}, "domainColor": "#ff0000", "domainWidth": 3.5, "tickColor": "#ff0000", "tickWidth": 3, "labelColor": "#ff0000", "labelFont": "Liberation Sans", "labelFontSize": 26, "labelFontWeight": "bold", "labelPadding": 6, "labelOverlap": false, "labelFlush": false, "title": "pN cm⁻² s⁻¹", "titleFont": "Liberation Sans", "titleFontSize": 28, "titleFontWeight": "bold", "titleColor": "#ff0000", "titlePadding": 20}}
 }},
{"data": {"name": "red"}, "mark": {"type": "line", "color": "#ff0000", "strokeWidth": 2.5},
 "encoding": {"x": {"field": "nm", "type": "quantitative", "scale": {"domain": [400, 940], "nice": false, "zero": false}}, "y": {"field": "v", "type": "quantitative", "scale": {"domain": [0, 3.5], "nice": false, "zero": false}}}},
{"data": {"values": [{"edge": 3.5}]}, "mark": {"type": "rule", "color": "black", "strokeWidth": 4.5},
 "encoding": {"y": {"field": "edge", "type": "quantitative", "scale": {"domain": [0, 3.5], "nice": false, "zero": false}}}},
{"data": {"values": [{"nm": 486.5, "v": 2.68, "label": "Light source for"}, {"nm": 488, "v": 2.38, "label": "photoelectrode"}]},
 "mark": {"type": "text", "font": "Lato", "fontWeight": "bold", "fontSize": 30, "color": "#ff0000", "align": "center", "baseline": "middle"},
 "encoding": {"x": {"field": "nm", "type": "quantitative", "scale": {"domain": [400, 940], "nice": false, "zero": false}}, "y": {"field": "v", "type": "quantitative", "scale": {"domain": [0, 3.5], "nice": false, "zero": false}}, "text": {"field": "label"}}},
{"data": {"values": [{"nm": 716.6, "v": 1.72, "label": "650 nm"}, {"nm": 716.6, "v": 1.40, "label": "band-pass"}]},
 "mark": {"type": "text", "font": "Lato", "fontWeight": "bold", "fontSize": 30, "color": "#ff99cc", "align": "center", "baseline": "middle"},
 "encoding": {"x": {"field": "nm", "type": "quantitative", "scale": {"domain": [400, 940], "nice": false, "zero": false}}, "y": {"field": "v", "type": "quantitative", "scale": {"domain": [0, 3.5], "nice": false, "zero": false}}, "text": {"field": "label"}}},
{"data": {"values": [{"nm": 806.4, "v": 0.71, "label": "Light source for"}, {"nm": 808.7, "v": 0.40, "label": "P870-bleaching"}]},
 "mark": {"type": "text", "font": "Lato", "fontWeight": "bold", "fontSize": 30, "color": "#0000ff", "align": "center", "baseline": "middle"},
 "encoding": {"x": {"field": "nm", "type": "quantitative", "scale": {"domain": [400, 940], "nice": false, "zero": false}}, "y": {"field": "v", "type": "quantitative", "scale": {"domain": [0, 3.5], "nice": false, "zero": false}}, "text": {"field": "label"}}},
{"data": {"values": [{"nm": 400, "v": 3.5, "label": "×10"}]},
 "mark": {"type": "text", "font": "Liberation Sans", "fontSize": 28, "color": "#ff0000", "align": "left", "baseline": "alphabetic", "dx": 4, "dy": -7},
 "encoding": {"x": {"field": "nm", "type": "quantitative", "scale": {"domain": [400, 940], "nice": false, "zero": false}}, "y": {"field": "v", "type": "quantitative", "scale": {"domain": [0, 3.5], "nice": false, "zero": false}}, "text": {"field": "label"}}},
{"data": {"values": [{"nm": 400, "v": 3.5, "label": "15"}]},
 "mark": {"type": "text", "font": "Liberation Sans", "fontSize": 20, "color": "#ff0000", "align": "left", "baseline": "alphabetic", "dx": 56, "dy": -20},
 "encoding": {"x": {"field": "nm", "type": "quantitative", "scale": {"domain": [400, 940], "nice": false, "zero": false}}, "y": {"field": "v", "type": "quantitative", "scale": {"domain": [0, 3.5], "nice": false, "zero": false}}, "text": {"field": "label"}}},
{"data": {"values": [{"nm": 940, "v": 3.5, "label": "×10"}]},
 "mark": {"type": "text", "font": "Liberation Sans", "fontSize": 27, "fontWeight": "bold", "color": "#0000ff", "align": "left", "baseline": "alphabetic", "dx": 5, "dy": -16},
 "encoding": {"x": {"field": "nm", "type": "quantitative", "scale": {"domain": [400, 940], "nice": false, "zero": false}}, "y": {"field": "v", "type": "quantitative", "scale": {"domain": [0, 3.5], "nice": false, "zero": false}}, "text": {"field": "label"}}},
{"data": {"values": [{"nm": 940, "v": 3.5, "label": "12"}]},
 "mark": {"type": "text", "font": "Liberation Sans", "fontSize": 19, "fontWeight": "bold", "color": "#0000ff", "align": "left", "baseline": "alphabetic", "dx": 60, "dy": -30},
 "encoding": {"x": {"field": "nm", "type": "quantitative", "scale": {"domain": [400, 940], "nice": false, "zero": false}}, "y": {"field": "v", "type": "quantitative", "scale": {"domain": [0, 3.5], "nice": false, "zero": false}}, "text": {"field": "label"}}}
]
},
{
"data": {"name": "blue"},
"mark": {"type": "line", "color": "#0000ff", "strokeWidth": 3.5},
"encoding": {
 "x": {"field": "nm", "type": "quantitative", "scale": {"domain": [400, 940], "nice": false, "zero": false}},
 "y": {"field": "v", "type": "quantitative", "scale": {"domain": [0, 5], "nice": false, "zero": false},
  "axis": {"orient": "right", "values": [0,0.5,1,1.5,2,2.5,3,3.5,4,4.5,5], "labelExpr": "datum.value % 1 === 0 ? '' + datum.value : ''", "tickSize": {"condition": {"test": "datum.value % 1 === 0", "value": 10}, "value": 6}, "domainColor": "#0000ff", "domainWidth": 3.5, "tickColor": "#0000ff", "tickWidth": 3, "labelColor": "#0000ff", "labelFont": "Liberation Sans", "labelFontSize": 26, "labelFontWeight": "bold", "labelPadding": 3, "labelOverlap": false, "labelFlush": false, "title": "pN cm⁻² s⁻¹", "titleFont": "Liberation Sans", "titleFontSize": 28, "titleFontWeight": "bold", "titleColor": "#0000ff", "titlePadding": 20}}
}
}
],
"resolve": {"scale": {"y": "independent"}, "axis": {"y": "independent"}}
},
{
"width": 836, "height": 461,
"title": {"text": "b", "anchor": "start", "frame": "group", "fontSize": 40, "fontWeight": "bold", "font": "Liberation Sans", "color": "black", "dx": -106, "offset": -30, "baseline": "alphabetic"},
"view": {"stroke": "#1a1a1a", "strokeWidth": 3},
"layer": [
{
"data": {"name": "cur"},
"layer": [
{"mark": {"type": "line", "color": "#cccccc", "strokeWidth": 0.7},
 "encoding": {
  "x": {"field": "t", "type": "quantitative", "scale": {"domain": [0, 542.5], "nice": false, "zero": false},
   "axis": {"orient": "bottom", "values": [0,25,50,75,100,125,150,175,200,225,250,275,300,325,350,375,400,425,450,475,500,525], "labelExpr": "datum.value % 50 === 0 ? '' + datum.value : ''", "tickSize": {"condition": {"test": "datum.value % 50 === 0", "value": 10}, "value": 5}, "domainColor": "#1a1a1a", "domainWidth": 3, "tickColor": "#1a1a1a", "tickWidth": 2.5, "labelColor": "#262626", "labelFont": "Liberation Sans", "labelFontSize": 21, "labelFontWeight": "bold", "labelPadding": 8, "labelOverlap": false, "labelFlush": false, "title": "Time (s)", "titleFont": "Liberation Sans", "titleFontSize": 25, "titleFontWeight": "bold", "titleColor": "black", "titlePadding": 12}},
  "y": {"field": "c", "type": "quantitative", "scale": {"domain": [-130, -30], "reverse": true, "nice": false, "zero": false},
   "axis": {"orient": "left", "values": [-130,-120,-110,-100,-90,-80,-70,-60,-50,-40,-30], "labelExpr": "(datum.value + 130) % 20 === 0 ? '-' + abs(datum.value) : ''", "tickSize": {"condition": {"test": "(datum.value + 130) % 20 === 0", "value": 9}, "value": 6}, "domainColor": "#1a1a1a", "domainWidth": 3, "tickColor": "#1a1a1a", "tickWidth": 2.5, "labelColor": "#262626", "labelFont": "Liberation Sans", "labelFontSize": 21, "labelFontWeight": "bold", "labelPadding": 10, "labelOverlap": false, "labelFlush": false, "title": "Current (nA)", "titleFont": "Liberation Sans", "titleFontSize": 26, "titleFontWeight": "bold", "titleColor": "black", "titlePadding": -3}}
 }},
{"mark": {"type": "circle", "color": "black", "size": 11, "opacity": 1},
 "encoding": {
  "x": {"field": "t", "type": "quantitative", "scale": {"domain": [0, 542.5], "nice": false, "zero": false}},
  "y": {"field": "c", "type": "quantitative", "scale": {"domain": [-130, -30], "reverse": true, "nice": false, "zero": false}}
 }}
]
},
{
"layer": [
{"data": {"name": "inset"}, "mark": {"type": "line", "color": "#c0c0c0", "strokeWidth": 1},
 "encoding": {
  "x": {"field": "t", "type": "quantitative", "scale": {"domain": [0.1, 2], "range": [92.3, 244], "nice": false, "zero": false},
   "axis": {"orient": "bottom", "offset": -302, "values": [0.5, 1, 1.5, 2], "labelExpr": "'' + datum.value", "tickSize": 5, "domainColor": "#333333", "domainWidth": 1.5, "tickColor": "#333333", "tickWidth": 1.5, "labelColor": "#333333", "labelFont": "Liberation Sans", "labelFontSize": 15, "labelFontWeight": "bold", "labelPadding": 3, "labelOverlap": false, "labelFlush": false, "title": "Time (s)", "titleFont": "Liberation Sans", "titleFontSize": 16, "titleFontWeight": "bold", "titleColor": "#333333", "titlePadding": 3}},
  "y": {"field": "c", "type": "quantitative", "scale": {"domain": [-82.2, -40], "range": [25.3, 159], "nice": false, "zero": false},
   "axis": {"orient": "left", "offset": -92.3, "values": [-80, -70, -60, -50, -40], "labelExpr": "'-' + abs(datum.value)", "tickSize": 5, "domainColor": "#333333", "domainWidth": 1.5, "tickColor": "#333333", "tickWidth": 1.5, "labelColor": "#333333", "labelFont": "Liberation Sans", "labelFontSize": 15, "labelFontWeight": "bold", "labelPadding": 2, "labelOverlap": false, "labelFlush": false, "title": "Current (nA)", "titleFont": "Liberation Sans", "titleFontSize": 16, "titleFontWeight": "bold", "titleColor": "#333333", "titlePadding": 4}}
 }},
{"data": {"name": "inset"}, "mark": {"type": "circle", "color": "black", "size": 45, "opacity": 1},
 "encoding": {
  "x": {"field": "t", "type": "quantitative", "scale": {"domain": [0.1, 2], "range": [92.3, 244], "nice": false, "zero": false}},
  "y": {"field": "c", "type": "quantitative", "scale": {"domain": [-82.2, -40], "range": [25.3, 159], "nice": false, "zero": false}}
 }},
{"data": {"values": [{"t": 0.163, "t2": 1.174, "c": -40, "c2": -82.2}]}, "mark": {"type": "rect", "color": "#6d6d6d", "opacity": 0.5},
 "encoding": {
  "x": {"field": "t", "type": "quantitative", "scale": {"domain": [0.1, 2], "range": [92.3, 244], "nice": false, "zero": false}},
  "x2": {"field": "t2"},
  "y": {"field": "c", "type": "quantitative", "scale": {"domain": [-82.2, -40], "range": [25.3, 159], "nice": false, "zero": false}},
  "y2": {"field": "c2"}
 }}
]
}
],
"resolve": {"scale": {"x": "independent", "y": "independent"}, "axis": {"x": "independent", "y": "independent"}}
}
],
"spacing": 14
}
